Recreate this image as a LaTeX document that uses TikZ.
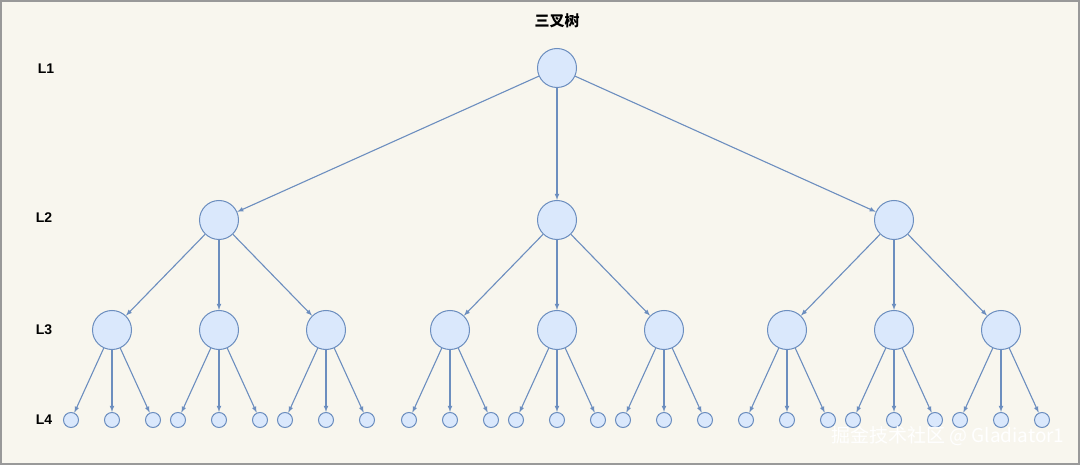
\documentclass[tikz,border=0pt]{standalone}
\usepackage{fontspec}
\setmainfont{Liberation Sans}
\newfontfamily\cjk{Noto Sans CJK SC}
\usetikzlibrary{positioning}
\usetikzlibrary{arrows}
\tikzset{>=latex}
\definecolor{bgcol}{HTML}{F8F6EE}
\definecolor{nodefill}{HTML}{DAE8FC}
\definecolor{nodeline}{HTML}{6C8EBF}
\tikzset{bignode/.style={circle, draw=nodeline, fill=nodefill, line width=1pt, minimum size=39pt, inner sep=0pt}}
\tikzset{leaf/.style={circle, draw=nodeline, fill=nodefill, line width=1pt, minimum size=15pt, inner sep=0pt}}
\tikzset{link/.style={->, draw=nodeline, line width=1.1pt}}
\tikzset{level/.style={font=\fontsize{14}{16}\selectfont\bfseries}}

\begin{document}
\begin{tikzpicture}[x=1pt, y=-1pt]
    \draw[fill=bgcol, draw=gray!80, line width=2pt] (1,1) rectangle (1079,464);
    \useasboundingbox (0,0) rectangle (1080,465);

    \node (title) at (557,21) {\cjk\fontsize{15}{17}\selectfont\bfseries 三叉树};
    \node [level] (l1) at (46,69) {L1};
    \node [level] (l2) at (44,218) {L2};
    \node [level] (l3) at (44,330) {L3};
    \node [level] (l4) at (44,420) {L4};

    \node [bignode] (n) at (557,68) {};
    \foreach \i/\x in {1/219, 2/557, 3/894} {
        \node [bignode] (n\i) at (\x,220) {};
        \draw [link] (n) -- (n\i);
        \foreach \j/\dx in {1/-107, 2/0, 3/107} {
            \node [bignode] (n\i\j) at (\x+\dx,330) {};
            \draw [link] (n\i) -- (n\i\j);
            \foreach \k/\ex in {1/-41, 2/0, 3/41} {
                \node [leaf] (n\i\j\k) at (\x+\dx+\ex,420) {};
                \draw [link] (n\i\j) -- (n\i\j\k);
            }
        }
    }

    % watermark
    \node [anchor=east, text=white] (mark) at (1068,436)
        {\cjk\fontsize{19}{21}\selectfont 掘金技术社区 @ Gladiator1};
\end{tikzpicture}
\end{document}
